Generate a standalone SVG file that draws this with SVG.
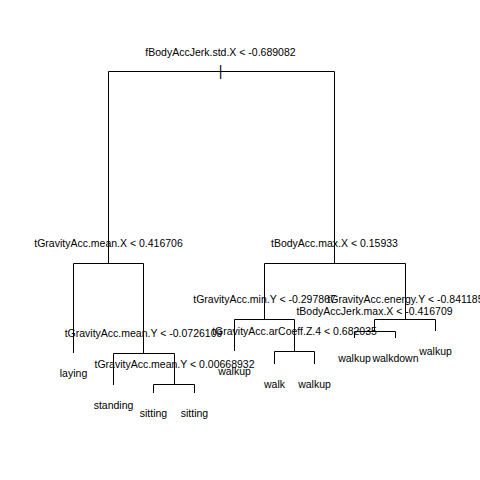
<svg xmlns="http://www.w3.org/2000/svg" width="480" height="480" viewBox="0 0 480 480">
<style>
text{font-family:"Liberation Sans",Arial,sans-serif;font-size:10.5px;fill:#000;text-anchor:middle}
.c path{fill:none;stroke:#000;stroke-width:1}
.tick{font-size:14px}
</style>
<rect width="480" height="480" fill="#fff"/>
<g class="c" id="connectors">
<path d="M108.5 263.5V71.5H334.5V263.5"/>
<path d="M73.5 353V263.5H143.5V353.5"/>
<path d="M113.5 385V353.5H174.5V384.5"/>
<path d="M153.5 393V384.5H194.5V393"/>
<path d="M264.5 319.5V263.5H405.5V319.5"/>
<path d="M234.5 351V319.5H294.5V351.5"/>
<path d="M274.5 364V351.5H314.5V364"/>
<path d="M374.5 331.5V319.5H435.5V331"/>
<path d="M354.5 338V331.5H395.5V338"/>
</g>
<g id="n1"><text x="220.5" y="56">fBodyAccJerk.std.X &lt; -0.689082</text><text class="tick" x="220.5" y="76">|</text></g>
<g id="n2"><text x="108.5" y="247">tGravityAcc.mean.X &lt; 0.416706</text></g>
<g id="n3"><text x="334.5" y="247">tBodyAcc.max.X &lt; 0.15933</text></g>
<g id="n4"><text x="73.5" y="376.8">laying</text></g>
<g id="n5"><text x="143.5" y="337">tGravityAcc.mean.Y &lt; -0.0726109</text></g>
<g id="n6"><text x="113.5" y="408.5">standing</text></g>
<g id="n7"><text x="174.5" y="368.3">tGravityAcc.mean.Y &lt; 0.00668932</text></g>
<g id="n8"><text x="153.5" y="416.5">sitting</text></g>
<g id="n9"><text x="194.5" y="416.5">sitting</text></g>
<g id="n10"><text x="264.5" y="303.3">tGravityAcc.min.Y &lt; -0.297867</text></g>
<g id="n11"><text x="234.5" y="374.5">walkup</text></g>
<g id="n12"><text x="294.5" y="335">tGravityAcc.arCoeff.Z.4 &lt; 0.682035</text></g>
<g id="n13"><text x="274.5" y="387.8">walk</text></g>
<g id="n14"><text x="314.5" y="387.8">walkup</text></g>
<g id="n15"><text x="405.5" y="303.3">tGravityAcc.energy.Y &lt; -0.841185</text></g>
<g id="n16"><text x="374.5" y="315">tBodyAccJerk.max.X &lt; -0.416709</text></g>
<g id="n17"><text x="354.5" y="361.5">walkup</text></g>
<g id="n18"><text x="395.5" y="361.5">walkdown</text></g>
<g id="n19"><text x="435.5" y="354.5">walkup</text></g>
</svg>
